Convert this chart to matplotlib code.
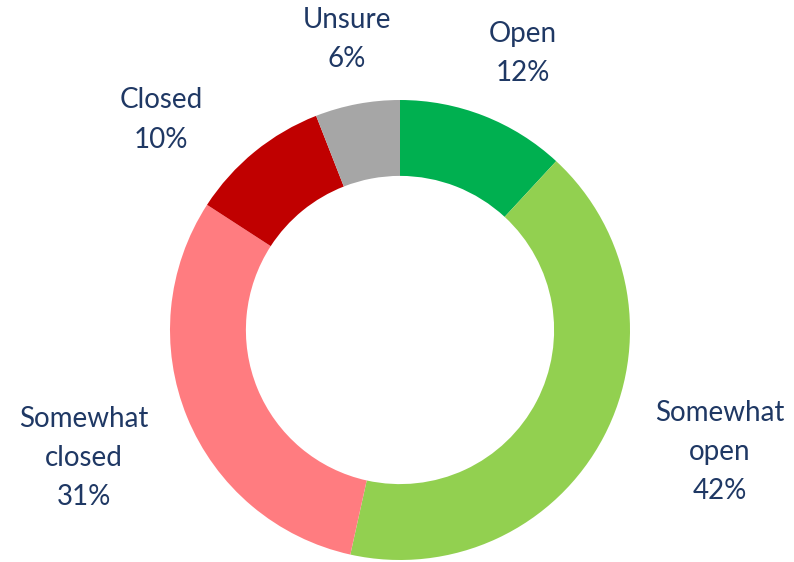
import matplotlib
matplotlib.use("Agg")
import matplotlib.pyplot as plt

categories = ["Open", "Somewhat\nopen", "Somewhat\nclosed", "Closed", "Unsure"]
values = [12, 42, 31, 10, 6]
colors = ["#00B050", "#92D050", "#FF7C80", "#C00000", "#A6A6A6"]
label_pos = [(0.535, 1.204), (1.391, -0.530), (-1.374, -0.557), (-1.039, 0.913), (-0.230, 1.265)]

plt.rcParams['font.family'] = ['Lato', 'DejaVu Sans']
fig = plt.figure(figsize=(7.94, 5.62), dpi=100)
ax = fig.add_axes([0, 0, 1, 1])
ax.pie(values, colors=colors, startangle=90, counterclock=False,
       radius=1.0, wedgeprops=dict(width=0.33, edgecolor="none", linewidth=0))
for cat, v, (x, y) in zip(categories, values, label_pos):
    ax.text(x, y, f"{cat}\n{v}%", ha="center", va="center", fontsize=20,
            color="#1F3864", linespacing=1.62)
ax.set_xlim(-400/230, 394/230)
ax.set_ylim(-232/230, 330/230)
ax.set_aspect("equal")
ax.axis("off")
fig.savefig("out.png", dpi=100)
